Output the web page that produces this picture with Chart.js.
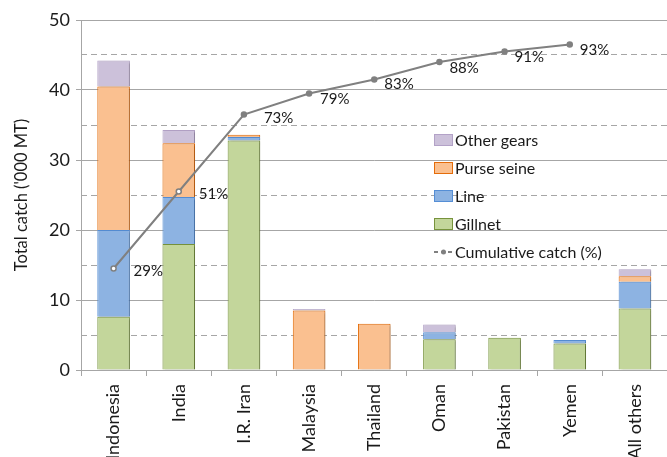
<!DOCTYPE html>
<html>
<head>
<meta charset="utf-8">
<script src="https://cdn.jsdelivr.net/npm/chart.js@4.4.0/dist/chart.umd.min.js"></script>
<style>
  html, body { margin: 0; padding: 0; background: #fff; overflow: hidden; }
  #wrap { position: absolute; left: 0; top: 0; width: 673px; height: 457px; }
</style>
</head>
<body>
<div id="wrap"><canvas id="catchChart"></canvas></div>
<script>
// catch by gear, '000 MT
const countries = ['Indonesia', 'India', 'I.R. Iran', 'Malaysia', 'Thailand', 'Oman', 'Pakistan', 'Yemen', 'All others'];
const gillnet = [7.6, 18.0, 32.8, 0, 0, 4.4, 4.6, 3.8, 8.8];
const line = [12.4, 6.7, 0.5, 0, 0, 1.0, 0, 0.5, 3.8];
const purseSeine = [20.5, 7.7, 0.3, 8.5, 6.6, 0, 0, 0, 0.8];
const otherGears = [3.7, 1.9, 0, 0.2, 0, 1.1, 0, 0, 1.0];
const cumulativePct = [29, 51, 73, 79, 83, 88, 91, 93, null];

const FONT = 'Lato, "Open Sans", sans-serif';
Chart.defaults.font.family = FONT;
Chart.defaults.color = '#1a1a1a';

// offsets of the % labels from their points
const labelDx = [20, 20, 20, 11, 10, 10, 10, 10];
const labelDy = [3, 3, 4, 6, 5, 6, 6, 6];

const pctLabels = {
    id: 'pctLabels',
    afterDatasetsDraw(chart) {
        const meta = chart.getDatasetMeta(4);
        const ctx = chart.ctx;
        ctx.save();
        ctx.font = '15px ' + FONT;
        ctx.fillStyle = '#1a1a1a';
        ctx.textBaseline = 'middle';
        meta.data.forEach((pt, i) => {
            if (cumulativePct[i] == null) return;
            ctx.fillText(cumulativePct[i] + '%', pt.x + labelDx[i], pt.y + labelDy[i]);
        });
        ctx.restore();
    }
};

const boxLegend = {
    id: 'boxLegend',
    afterDraw(chart) {
        const ctx = chart.ctx;
        const x = 434, y0 = 140, step = 28;
        const order = [3, 2, 1, 0, 4];
        ctx.save();
        ctx.font = '16px ' + FONT;
        ctx.textBaseline = 'middle';
        order.forEach((di, k) => {
            const ds = chart.data.datasets[di];
            const y = y0 + k * step;
            if (ds.type === 'line') {
                ctx.strokeStyle = ds.borderColor;
                ctx.lineWidth = 2;
                ctx.setLineDash([4, 3]);
                ctx.beginPath(); ctx.moveTo(x, y); ctx.lineTo(x + 19, y); ctx.stroke();
                ctx.setLineDash([]);
                ctx.fillStyle = ds.borderColor;
                ctx.beginPath(); ctx.arc(x + 9.5, y, 2.5, 0, Math.PI * 2); ctx.fill();
            } else {
                ctx.fillStyle = ds.backgroundColor;
                ctx.fillRect(x, y - 6, 19, 12);
                ctx.strokeStyle = ds.borderColor;
                ctx.lineWidth = 1;
                ctx.strokeRect(x + 0.5, y - 5.5, 18, 11);
            }
            ctx.fillStyle = '#1a1a1a';
            ctx.fillText(ds.label, x + 21, y + 1);
        });
        ctx.restore();
    }
};

const barShadow = {
    id: 'barShadow',
    beforeDatasetDraw(chart, args) {
        if (args.meta.type !== 'bar') return;
        const ctx = chart.ctx;
        ctx.save();
        ctx.shadowColor = 'rgba(0,0,0,0.25)';
        ctx.shadowBlur = 2;
        ctx.shadowOffsetX = 2;
        ctx.shadowOffsetY = 1;
    },
    afterDatasetDraw(chart, args) {
        if (args.meta.type !== 'bar') return;
        chart.ctx.restore();
    }
};

const GRID = '#a6a6a6';

new Chart(document.getElementById('catchChart'), {
    type: 'bar',
    data: {
        labels: countries,
        datasets: [
            { label: 'Gillnet', data: gillnet, backgroundColor: '#c3d69b', borderColor: '#77933c', borderWidth: 1, order: 1 },
            { label: 'Line', data: line, backgroundColor: '#8db3e2', borderColor: '#558ed5', borderWidth: 1, order: 1 },
            { label: 'Purse seine', data: purseSeine, backgroundColor: '#fac090', borderColor: '#e46c0a', borderWidth: 1, order: 1 },
            { label: 'Other gears', data: otherGears, backgroundColor: '#ccc1da', borderColor: '#b3a2c7', borderWidth: 1, order: 1 },
            {
                type: 'line', label: 'Cumulative catch (%)', data: cumulativePct, yAxisID: 'y2',
                borderColor: '#808080', borderWidth: 2,
                pointRadius: 2.5, pointBorderWidth: 1.5, pointBorderColor: '#808080',
                pointBackgroundColor: c => c.dataIndex < 2 ? '#ffffff' : '#808080',
                order: 0
            }
        ]
    },
    options: {
        responsive: true,
        maintainAspectRatio: false,
        animation: false,
        layout: { padding: { top: 20, right: 0, left: 0, bottom: 0 } },
        datasets: { bar: { categoryPercentage: 1, barPercentage: 0.5 } },
        scales: {
            x: {
                stacked: true,
                offset: true,
                grid: { offset: true, drawOnChartArea: false, drawTicks: true, tickLength: 6, color: GRID },
                border: { color: GRID },
                ticks: { minRotation: 90, maxRotation: 90, padding: 8, font: { size: 18 }, color: '#1a1a1a' },
                afterFit: s => { s.height = 87; }
            },
            y: {
                stacked: true,
                min: 0, max: 50,
                grid: { color: GRID, tickLength: 5 },
                border: { color: GRID },
                ticks: { stepSize: 10, padding: 6, font: { size: 18 }, color: '#1a1a1a' },
                title: { display: true, text: "Total catch ('000 MT)", font: { size: 16.5 }, color: '#1a1a1a', padding: { top: 12, bottom: 0 } },
                afterFit: s => { s.width = 81; }
            },
            yDash: {
                position: 'left',
                min: 0, max: 50,
                ticks: { display: false, stepSize: 5 },
                grid: { color: c => (c.tick && c.tick.value % 10 === 0) ? 'rgba(0,0,0,0)' : GRID, tickLength: 5 },
                border: { display: false, dash: [6, 4] },
                afterFit: s => { s.width = 0; }
            },
            y2: { display: false, min: 0, max: 100 }
        },
        plugins: {
            legend: { display: false },
            tooltip: { enabled: false }
        }
    },
    plugins: [barShadow, pctLabels, boxLegend]
});
</script>
</body>
</html>
